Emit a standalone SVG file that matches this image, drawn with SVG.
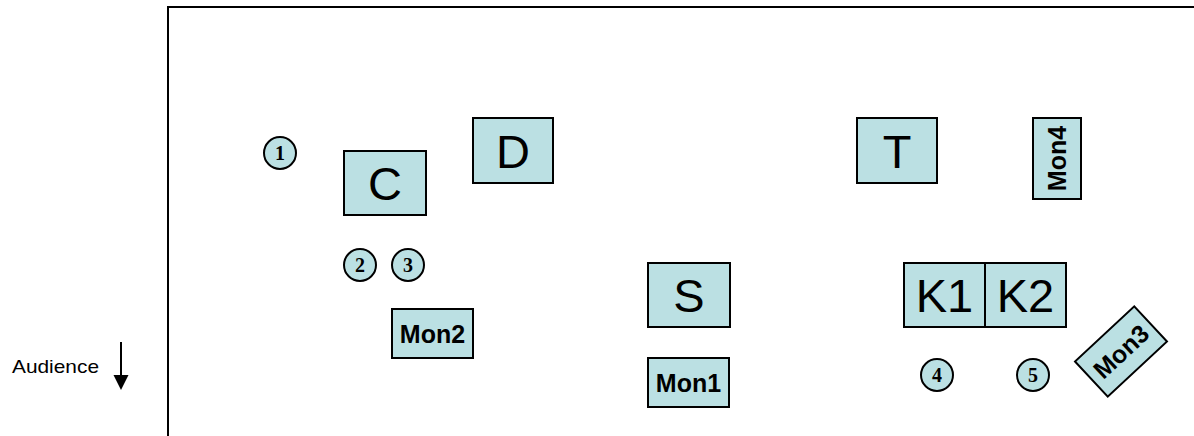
<svg xmlns="http://www.w3.org/2000/svg" width="1194" height="436" viewBox="0 0 1194 436">
<style>
.box{fill:#BBE0E3;stroke:#000;stroke-width:2}
.big{font-family:"Liberation Sans",Arial,sans-serif;font-size:47px;text-anchor:middle;fill:#000}
.mon{font-family:"Liberation Sans",Arial,sans-serif;font-size:25px;font-weight:bold;text-anchor:middle;fill:#000}
.num{font-family:"Liberation Serif","Times New Roman",serif;font-size:20px;font-weight:bold;text-anchor:middle;fill:#000}
.frame{fill:none;stroke:#000;stroke-width:2}
</style>
<rect width="1194" height="436" fill="#fff"/>
<g id="stage-frame">
<path class="frame" d="M168,436 V7 H1194"/>
</g>
<g id="audience">
<text x="12" y="373" font-family="Liberation Sans,Arial,sans-serif" font-size="19" textLength="87" lengthAdjust="spacingAndGlyphs" fill="#000">Audience</text>
</g>
<g id="connectors">
<line x1="121" y1="342" x2="121" y2="376" stroke="#000" stroke-width="2"/>
<polygon points="113.5,375 128.5,375 121,390" fill="#000"/>
</g>
<g id="p1"><circle class="box" cx="280" cy="153" r="16"/><text class="num" x="280" y="159.5">1</text></g>
<g id="p2"><circle class="box" cx="360" cy="265" r="16"/><text class="num" x="360" y="271.5">2</text></g>
<g id="p3"><circle class="box" cx="408" cy="265" r="16"/><text class="num" x="408" y="271.5">3</text></g>
<g id="p4"><circle class="box" cx="937" cy="375" r="16"/><text class="num" x="937" y="381.5">4</text></g>
<g id="p5"><circle class="box" cx="1033" cy="375" r="16"/><text class="num" x="1033" y="381.5">5</text></g>
<g id="C"><rect class="box" x="344" y="151" width="82" height="64"/><text class="big" x="385" y="200">C</text></g>
<g id="D"><rect class="box" x="473" y="118" width="80" height="65"/><text class="big" x="513" y="167.5">D</text></g>
<g id="T"><rect class="box" x="857" y="118" width="80" height="65"/><text class="big" x="897" y="167.5">T</text></g>
<g id="S"><rect class="box" x="648" y="263" width="82" height="64"/><text class="big" x="689" y="312">S</text></g>
<g id="K1"><rect class="box" x="904" y="263" width="81" height="64"/><text class="big" x="944.5" y="312">K1</text></g>
<g id="K2"><rect class="box" x="985" y="263" width="81" height="64"/><text class="big" x="1025.5" y="312">K2</text></g>
<g id="Mon2"><rect class="box" x="392" y="309" width="81" height="49"/><text class="mon" x="432.5" y="343">Mon2</text></g>
<g id="Mon1"><rect class="box" x="648" y="358" width="81" height="49"/><text class="mon" x="688.5" y="392">Mon1</text></g>
<g id="Mon4" transform="translate(1057,158.5) rotate(-90)"><rect class="box" x="-40.5" y="-24" width="81" height="48"/><text class="mon" x="0" y="9">Mon4</text></g>
<g id="Mon3" transform="translate(1121,351.5) rotate(-43)"><rect class="box" x="-40.5" y="-24" width="81" height="48"/><text class="mon" x="0" y="9">Mon3</text></g>
</svg>
